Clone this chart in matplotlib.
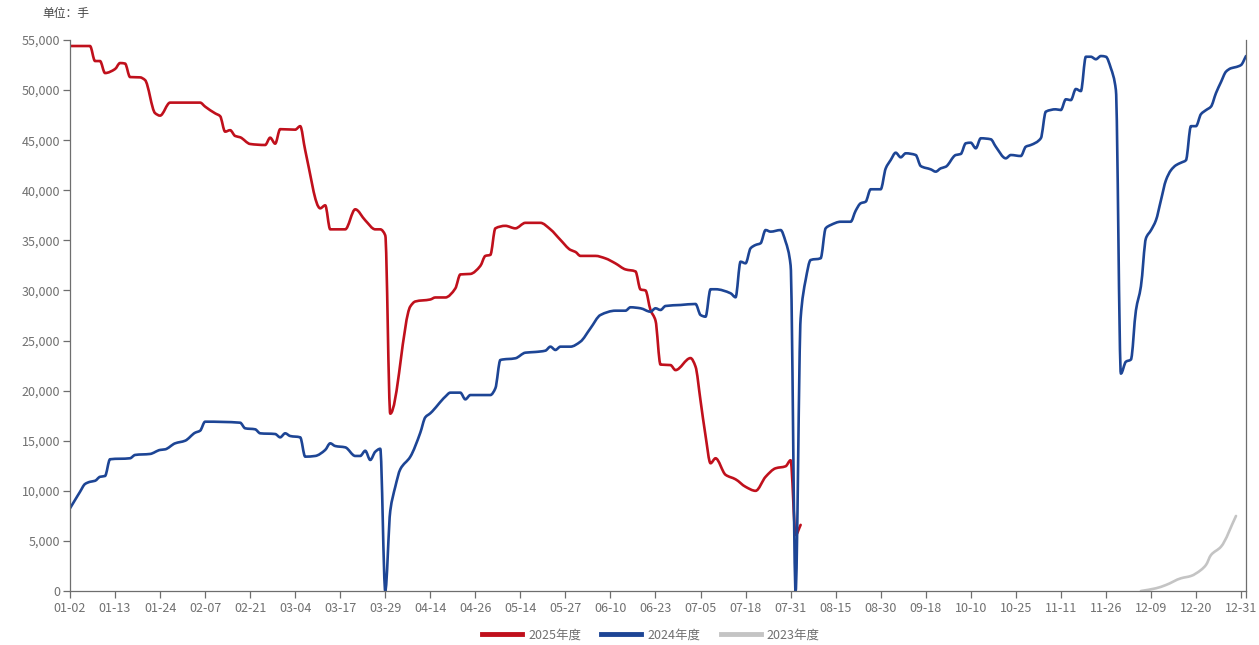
import matplotlib
matplotlib.use("Agg")
import matplotlib.pyplot as plt
from matplotlib.ticker import FuncFormatter, FixedLocator
from matplotlib.path import Path
from matplotlib.patches import PathPatch
from matplotlib.lines import Line2D

plt.rcParams['font.family'] = ['Noto Sans CJK SC', 'DejaVu Sans']

# category axis: 236 trading-day slots, a label every 9 slots
N_SLOTS = 236
TICK_LABELS = ["01-02", "01-13", "01-24", "02-07", "02-21", "03-04", "03-17", "03-29",
               "04-14", "04-26", "05-14", "05-27", "06-10", "06-23", "07-05", "07-18",
               "07-31", "08-15", "08-30", "09-18", "10-10", "10-25", "11-11", "11-26",
               "12-09", "12-20", "12-31"]
LABEL_STEP = 9

# 2025 season (slot index, lots)
x_2025 = [0, 4, 5, 6, 7, 9, 10, 11, 12, 14, 15, 17, 18, 20, 26, 27, 29, 30, 31, 32,
          33, 34, 36, 39, 40, 41, 42, 45, 46, 47, 50, 51, 52, 55, 57, 59, 61, 62, 63, 64,
          68, 69, 72, 73, 75, 77, 78, 80, 82, 83, 84, 85, 87, 89, 91, 94, 96, 98, 100, 101,
          102, 105, 107, 109, 111, 113, 114, 115, 116, 117, 118, 120, 121, 124, 125, 126, 127, 128, 129, 131,
          133, 135, 137, 139, 141, 143, 144, 145, 146]
y_2025 = [54400, 54400, 52900, 52900, 51700, 52100, 52700, 52650, 51300, 51270, 51000, 47700, 47450, 48750, 48750, 48350, 47680, 47400, 45850, 46000,
          45420, 45290, 44620, 44520, 45250, 44650, 46100, 46050, 46400, 44000, 38200, 38500, 36100, 36100, 38100, 37000, 36100, 36100, 35500, 17700,
          28400, 28900, 29100, 29300, 29300, 30200, 31600, 31650, 32450, 33450, 33550, 36200, 36450, 36200, 36750, 36750, 36100, 35050, 34050, 33850,
          33450, 33450, 33200, 32700, 32100, 31900, 30100, 30000, 28050, 27000, 22600, 22550, 22050, 23250, 22400, 19000, 15500, 12750, 13250, 11600,
          11150, 10400, 10000, 11400, 12250, 12450, 13050, 5600, 6600]

# 2024 season
x_2024 = [0, 1, 2, 3, 4, 5, 6, 7, 8, 12, 13, 16, 18, 19, 21, 23, 25, 26, 27, 34,
          35, 37, 38, 41, 42, 43, 44, 46, 47, 49, 51, 52, 53, 55, 57, 58, 59, 60, 61, 62,
          63, 64, 65, 66, 68, 70, 71, 72, 75, 76, 78, 79, 80, 84, 85, 86, 89, 91, 93, 95,
          96, 97, 98, 100, 102, 104, 106, 109, 111, 112, 114, 116, 117, 118, 119, 122, 125, 126, 127, 128,
          129, 132, 133, 134, 135, 136, 137, 138, 139, 140, 142, 143, 144, 145, 146, 147, 148, 150, 151, 152,
          154, 156, 157, 158, 159, 160, 162, 163, 164, 165, 166, 167, 169, 170, 172, 173, 174, 175, 177, 178,
          179, 180, 181, 182, 184, 185, 187, 188, 190, 191, 192, 194, 195, 197, 198, 199, 200, 201, 202, 203,
          204, 205, 206, 207, 208, 209, 210, 211, 212, 213, 214, 215, 216, 217, 218, 219, 220, 221, 222, 223,
          224, 225, 226, 227, 228, 229, 230, 231, 232, 233, 234, 235]
y_2024 = [8250, 9080, 9900, 10680, 10900, 11000, 11400, 11480, 13150, 13250, 13580, 13680, 14080, 14140, 14740, 15000, 15800, 16000, 16900, 16800,
          16240, 16140, 15740, 15670, 15340, 15740, 15470, 15340, 13410, 13480, 14080, 14740, 14470, 14340, 13480, 13480, 14000, 13080, 13900, 14200,
          0, 8000, 10400, 12150, 13400, 15800, 17340, 17740, 19400, 19800, 19800, 19130, 19560, 19560, 20230, 23060, 23230, 23790, 23860, 23990,
          24390, 24060, 24390, 24390, 24890, 26220, 27550, 27980, 27980, 28320, 28220, 27880, 28220, 28050, 28450, 28550, 28650, 27550, 27380, 30120,
          30120, 29720, 29320, 32870, 32710, 34210, 34540, 34710, 36030, 35870, 36030, 34870, 32500, 0, 27200, 31040, 33040, 33210, 36200, 36530,
          36860, 36860, 37960, 38700, 38860, 40100, 40100, 42180, 43020, 43750, 43290, 43690, 43520, 42420, 42090, 41860, 42190, 42350, 43520, 43620,
          44690, 44750, 44190, 45190, 45090, 44350, 43190, 43520, 43420, 44350, 44520, 45190, 47850, 48080, 48010, 49080, 49000, 50110, 49900, 53330,
          53330, 53080, 53400, 53330, 52180, 50000, 21700, 22890, 23100, 28000, 30400, 35200, 36000, 37000, 39000, 41000, 42000, 42500, 42750, 43000,
          46400, 46400, 47600, 48000, 48350, 49700, 50800, 51840, 52180, 52300, 52500, 53400]

# 2023 season
x_2023 = [214, 217, 219, 222, 224, 226, 227, 228, 230, 233]
y_2023 = [0, 270, 600, 1270, 1500, 2100, 2600, 3590, 4420, 7490]

SERIES = [
    ("2025年度", x_2025, y_2025, "#c0101c"),
    ("2024年度", x_2024, y_2024, "#1d4595"),
    ("2023年度", x_2023, y_2023, "#c4c4c4"),
]

AXIS_COLOR = "#6e6e6e"
TEXT_COLOR = "#707070"


def smooth_path(xs, ys):
    """Cubic Bezier path through the points, monotone (PCHIP-style) tangents."""
    n = len(xs)
    h = [xs[k + 1] - xs[k] for k in range(n - 1)]
    d = [(ys[k + 1] - ys[k]) / h[k] for k in range(n - 1)]
    m = [0.0] * n
    m[0], m[-1] = d[0], d[-1]
    for k in range(1, n - 1):
        if d[k - 1] * d[k] <= 0:
            m[k] = 0.0
        else:
            w1 = 2 * h[k] + h[k - 1]
            w2 = h[k] + 2 * h[k - 1]
            m[k] = (w1 + w2) / (w1 / d[k - 1] + w2 / d[k])
    verts = [(xs[0], ys[0])]
    codes = [Path.MOVETO]
    for k in range(n - 1):
        t = h[k] / 3.0
        verts += [(xs[k] + t, ys[k] + m[k] * t),
                  (xs[k + 1] - t, ys[k + 1] - m[k + 1] * t),
                  (xs[k + 1], ys[k + 1])]
        codes += [Path.CURVE4] * 3
    return Path(verts, codes)


fig = plt.figure(figsize=(12.59, 6.45), dpi=100)
ax = fig.add_axes([70 / 1259, 1 - 591 / 645, (1246 - 70) / 1259, (591 - 40) / 645])

handles = []
for name, xs, ys, color in SERIES:
    ax.add_patch(PathPatch(smooth_path(xs, ys), facecolor="none", edgecolor=color,
                           linewidth=1.9, joinstyle="round", capstyle="round"))
    handles.append(Line2D([], [], color=color, linewidth=3.5, label=name))

ax.set_xlim(0, N_SLOTS - 1)
ax.set_ylim(0, 55000)

tick_pos = [i * LABEL_STEP for i in range(len(TICK_LABELS))]
ax.set_xticks(tick_pos)
ax.set_xticklabels(TICK_LABELS)
ax.xaxis.set_minor_locator(FixedLocator([N_SLOTS - 1]))
ax.set_yticks(range(0, 55001, 5000))
ax.yaxis.set_major_formatter(FuncFormatter(lambda v, _: f"{int(v):,}"))

ax.spines['top'].set_visible(False)
for side in ('left', 'bottom', 'right'):
    ax.spines[side].set_color(AXIS_COLOR)
    ax.spines[side].set_linewidth(0.9)
ax.tick_params(axis='both', which='both', direction='out', length=5, width=0.9,
               color=AXIS_COLOR, labelcolor=TEXT_COLOR, labelsize=9)
ax.tick_params(axis='x', pad=3)
ax.tick_params(axis='y', pad=2)

fig.text(42 / 1259, 1 - 14 / 645, "单位：手", fontsize=8.5, color="#444444", va="center")

leg = fig.legend(handles=handles, loc="center", bbox_to_anchor=(0.517, 1 - 635 / 645), ncol=3,
                 frameon=False, fontsize=9, handlelength=3.2, handletextpad=0.5, columnspacing=1.6)
for t in leg.get_texts():
    t.set_color(TEXT_COLOR)

fig.savefig("out.png", dpi=100)
